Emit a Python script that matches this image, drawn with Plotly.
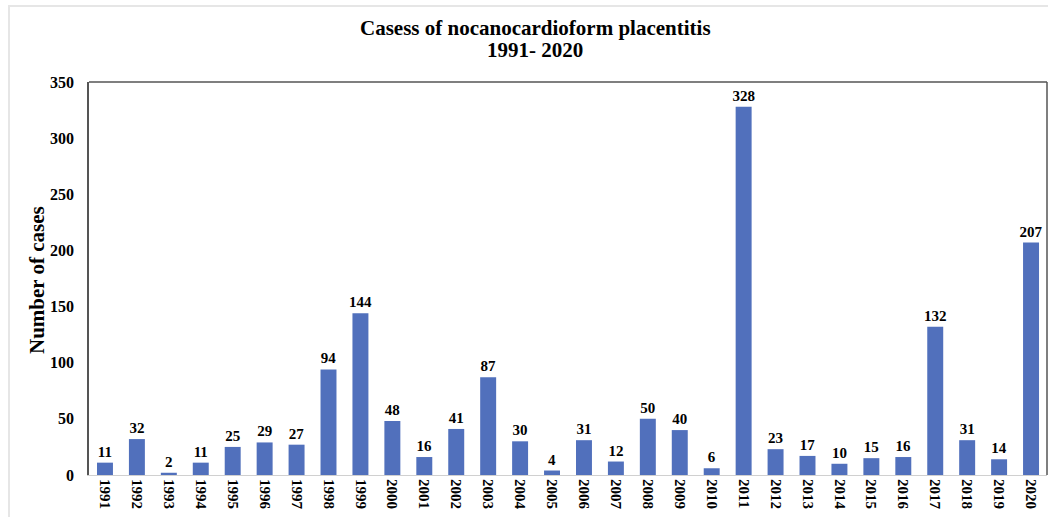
import plotly.graph_objects as go

years = [str(y) for y in range(1991, 2021)]
cases = [11, 32, 2, 11, 25, 29, 27, 94, 144, 48, 16, 41, 87, 30, 4, 31, 12, 50, 40, 6,
         328, 23, 17, 10, 15, 16, 132, 31, 14, 207]
y_ticks = [0, 50, 100, 150, 200, 250, 300, 350]

W, H = 1048, 517
L, T = 89, 82
R = W - 1047
B = H - 475
pw, ph = W - L - R, H - T - B

def px_x(x):  # page pixel -> paper
    return (x - L) / pw

def px_y(y):
    return (H - B - y) / ph

FONT = "Liberation Serif"

fig = go.Figure(go.Bar(
    x=years, y=cases,
    marker=dict(color="#5170bc", line=dict(width=0)),
    text=cases, textposition="outside", cliponaxis=False, constraintext="none",
    textfont=dict(family=FONT, size=15, color="black", weight="bold"),
))

fig.update_layout(
    width=W, height=H,
    margin=dict(l=L, r=R, t=T, b=B, autoexpand=False),
    paper_bgcolor="white", plot_bgcolor="white",
    bargap=0.5, showlegend=False,
    font=dict(family=FONT, color="black"),
    xaxis=dict(type="category", tickangle=90, showgrid=False, ticks="",
               showline=True, linecolor="#d0d0d0", linewidth=1, automargin=False,
               tickfont=dict(family=FONT, size=15, color="black", weight="bold")),
    yaxis=dict(range=[0, 350], tickvals=y_ticks, showgrid=False, ticks="",
               showline=True, linecolor="#555555", linewidth=1.5, zeroline=False,
               automargin=False,
               tickfont=dict(family=FONT, size=16, color="black", weight="bold"),
               ticklabelstandoff=10),
    annotations=[
        dict(text="<b>Casess of nocanocardioform placentitis</b>",
             xref="paper", yref="paper", x=px_x(535), y=px_y(28), showarrow=False,
             font=dict(family=FONT, size=21, color="black"), xanchor="center", yanchor="middle"),
        dict(text="<b>1991- 2020</b>",
             xref="paper", yref="paper", x=px_x(535), y=px_y(50), showarrow=False,
             font=dict(family=FONT, size=21, color="black"), xanchor="center", yanchor="middle"),
        dict(text="<b>Number of cases</b>", textangle=-90,
             xref="paper", yref="paper", x=px_x(37), y=px_y(280), showarrow=False,
             font=dict(family=FONT, size=21, color="black"), xanchor="center", yanchor="middle"),
    ],
    shapes=[
        dict(type="line", xref="paper", yref="paper", x0=0, x1=1, y0=1, y1=1,
             line=dict(color="#555555", width=1.5)),
        dict(type="line", xref="paper", yref="paper", x0=1, x1=1, y0=0, y1=1,
             line=dict(color="#555555", width=1.5)),
        dict(type="line", xref="paper", yref="paper", x0=px_x(8), x1=px_x(1048), y0=px_y(6), y1=px_y(6),
             line=dict(color="#e6e6e6", width=2)),
        dict(type="line", xref="paper", yref="paper", x0=px_x(9), x1=px_x(9), y0=px_y(6), y1=px_y(517),
             line=dict(color="#e6e6e6", width=2)),
    ],
)

fig.write_html(
    "out.html",
    config={"displayModeBar": False},
    post_script="document.body.style.margin='0';"
                "document.documentElement.style.overflow='hidden';"
                "document.body.style.overflow='hidden';",
)
